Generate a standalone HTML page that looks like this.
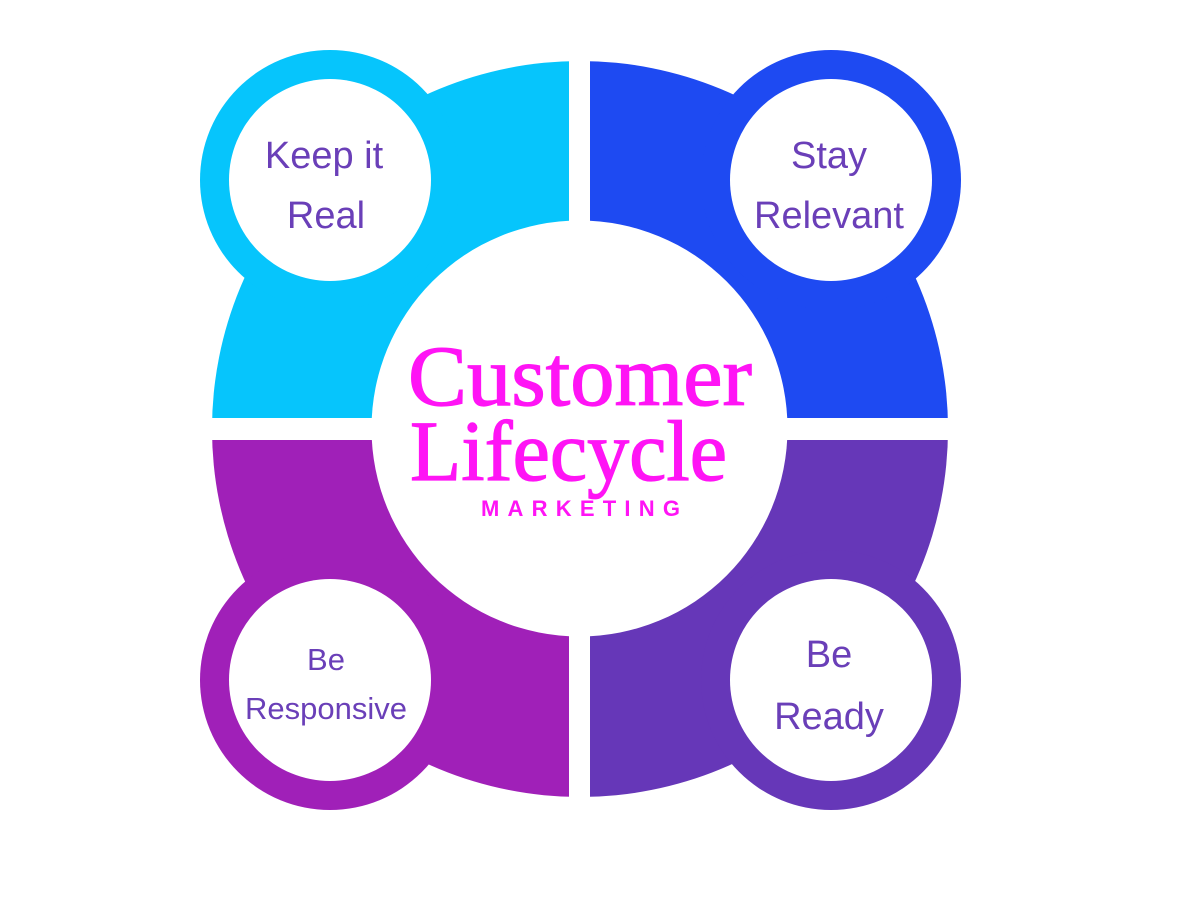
<!DOCTYPE html>
<html><head><meta charset="utf-8"><style>html,body{margin:0;padding:0;background:#fff}svg{display:block}</style></head>
<body>
<svg width="1200" height="900" viewBox="0 0 1200 900" xmlns="http://www.w3.org/2000/svg">
<rect width="1200" height="900" fill="#fff"/>
<g transform="translate(580,429)">
<path d="M0,0 L-368,0 A368,368 0 0 1 0,-368 Z" fill="#06C5FC"/>
<path d="M0,0 L0,-368 A368,368 0 0 1 368,0 Z" fill="#1E4AF2"/>
<path d="M0,0 L368,0 A368,368 0 0 1 0,368 Z" fill="#6637B8"/>
<path d="M0,0 L0,368 A368,368 0 0 1 -368,0 Z" fill="#A020B8"/>
</g>
<rect x="569" y="40" width="21" height="800" fill="#fff"/>
<rect x="180" y="418" width="800" height="22" fill="#fff"/>
<circle cx="330" cy="180" r="130" fill="#06C5FC"/>
<circle cx="831" cy="180" r="130" fill="#1E4AF2"/>
<circle cx="330" cy="680" r="130" fill="#A020B8"/>
<circle cx="831" cy="680" r="130" fill="#6637B8"/>
<circle cx="330" cy="180" r="101" fill="#fff"/>
<circle cx="831" cy="180" r="101" fill="#fff"/>
<circle cx="330" cy="680" r="101" fill="#fff"/>
<circle cx="831" cy="680" r="101" fill="#fff"/>
<circle cx="579.5" cy="428.5" r="208" fill="#fff"/>
<g font-family="'Liberation Sans', sans-serif" fill="#6A3FB8" text-anchor="middle">
<text x="324" y="168" font-size="38">Keep it</text>
<text x="326" y="228" font-size="38">Real</text>
<text x="829" y="168" font-size="38">Stay</text>
<text x="829" y="228" font-size="38">Relevant</text>
<text x="326" y="670" font-size="31">Be</text>
<text x="326" y="719" font-size="31">Responsive</text>
<text x="829" y="667" font-size="38">Be</text>
<text x="829" y="729" font-size="38">Ready</text>
</g>
<g fill="#FF14F5">
<text x="408" y="405" font-family="'Liberation Serif', serif" font-size="86" stroke="#FF14F5" stroke-width="1.2" textLength="344" lengthAdjust="spacingAndGlyphs">Customer</text>
<text x="410" y="480" font-family="'Liberation Serif', serif" font-size="86" stroke="#FF14F5" stroke-width="1.2" textLength="317" lengthAdjust="spacingAndGlyphs">Lifecycle</text>
<text x="481" y="516" font-family="'Liberation Sans', sans-serif" font-weight="bold" font-size="22" textLength="199" lengthAdjust="spacing">MARKETING</text>
</g>
</svg>
</body></html>
